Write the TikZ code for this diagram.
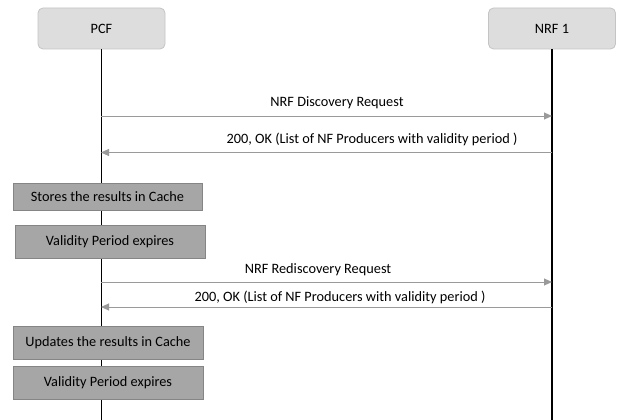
\documentclass[tikz,border=0pt]{standalone}
\usepackage{fontspec}
\setmainfont{Carlito}
\usetikzlibrary{arrows.meta}
\definecolor{hdrfill}{HTML}{DDDDDD}
\definecolor{hdrdraw}{HTML}{C4C4C4}
\definecolor{actfill}{HTML}{A6A6A6}
\definecolor{actdraw}{HTML}{858585}
\definecolor{msgline}{HTML}{9A9A9A}
\tikzset{
  hdr/.style={draw=hdrdraw, fill=hdrfill, rounded corners=5pt, line width=0.8pt, minimum width=127pt, minimum height=41pt, inner sep=0pt, font=\fontsize{14.3}{16}\selectfont},
  act/.style={draw=actdraw, fill=actfill, line width=0.6pt, inner sep=0pt, font=\fontsize{14.3}{16}\selectfont},
  life/.style={line width=1.6pt, black},
  msg/.style={draw=msgline, line width=0.9pt, -{Triangle[length=8pt,width=7pt,fill=msgline]}},
  lbl/.style={font=\fontsize{14.3}{16}\selectfont, inner sep=0pt},
}
\begin{document}
\begin{tikzpicture}[x=1pt,y=-1pt]
\useasboundingbox (0,0) rectangle (637,420);
\coordinate (pbot) at (101,420);
\coordinate (nbot) at (552,420);
\node[hdr] (pcf) at (101.5,28.5) {PCF};
\node[hdr] (nrf) at (552,28.5) {NRF 1};
\draw[life] (pcf.south) -- (pcf.south |- pbot);
\draw[life] (nrf.south) -- (nrf.south |- nbot);
% messages
\coordinate (m1a) at (101,116); \coordinate (m1b) at (552,116);
\draw[msg] (m1a) -- (m1b);
\node[lbl] (l1) at (337,103) {NRF Discovery Request};
\coordinate (m2a) at (552,152.5); \coordinate (m2b) at (101,152.5);
\draw[msg] (m2a) -- (m2b);
\node[lbl] (l2) at (372,139.5) {200, OK (List of NF Producers with validity period )};
% activity boxes
\node[act, minimum width=189pt, minimum height=27pt] (s1) at (107.5,196.5) {Stores the results in Cache};
\node[act, minimum width=190pt, minimum height=33pt] (v1) at (110,242) {Validity Period expires};
\coordinate (m3a) at (101,282); \coordinate (m3b) at (552,282);
\draw[msg] (m3a) -- (m3b);
\node[lbl] (l3) at (318,269.5) {NRF Rediscovery Request};
\coordinate (m4a) at (552,307); \coordinate (m4b) at (101,307);
\draw[msg] (m4a) -- (m4b);
\node[lbl] (l4) at (340,297) {200, OK (List of NF Producers with validity period )};
\node[act, minimum width=190pt, minimum height=33pt] (u1) at (108,342.5) {Updates the results in Cache};
\node[act, minimum width=190pt, minimum height=33pt] (v2) at (108,382.5) {Validity Period expires};
\end{tikzpicture}
\end{document}
